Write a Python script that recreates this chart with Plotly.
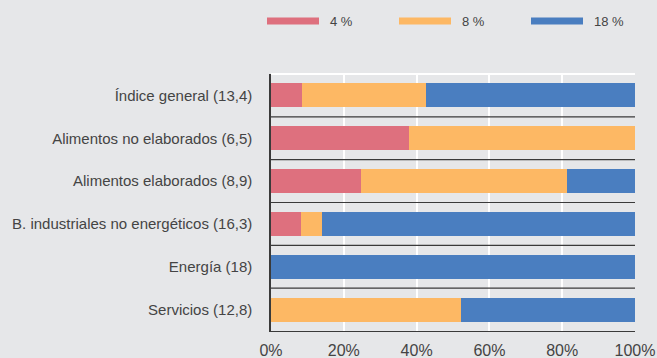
import plotly.graph_objects as go

# Categories (weight in parentheses) and share of each VAT rate, in %
categories = [
    "Índice general (13,4)",
    "Alimentos no elaborados (6,5)",
    "Alimentos elaborados (8,9)",
    "B. industriales no energéticos (16,3)",
    "Energía (18)",
    "Servicios (12,8)",
]
rate_4 = [8.5, 38.0, 24.8, 8.2, 0.0, 0.0]
rate_8 = [34.2, 62.0, 56.6, 5.8, 0.0, 52.3]
rate_18 = [57.3, 0.0, 18.6, 86.0, 100.0, 47.7]
series_names = ["4 %", "8 %", "18 %"]
tick_vals = [0, 20, 40, 60, 80, 100]
tick_text = ["0%", "20%", "40%", "60%", "80%", "100%"]

colors = ["#de707e", "#fdb864", "#4a7ec0"]
bg = "#e6e7e9"
text_color = "#444444"
font_family = "Liberation Sans, Arial, sans-serif"

fig = go.Figure()
for name, vals, col in zip(series_names, [rate_4, rate_8, rate_18], colors):
    fig.add_trace(go.Bar(
        y=categories, x=vals, name=name, orientation="h",
        marker=dict(color=col, line=dict(width=0)),
        showlegend=False,
    ))

# Layout geometry (pixels)
W, H = 657, 358
L, R, T, B = 271, 22, 74, 27
pw, ph = W - L - R, H - T - B

def px_x(p):
    return (p - L) / pw

def px_y(p):
    return (H - B - p) / ph

shapes = []
# dark separators between categories
for i in range(len(categories) - 1):
    shapes.append(dict(type="line", xref="paper", yref="y",
                       x0=0, x1=1, y0=i + 0.5, y1=i + 0.5,
                       line=dict(color="#3a3a3a", width=1.2), layer="above"))
# white top border
shapes.append(dict(type="line", xref="paper", yref="paper", x0=0, x1=1, y0=1, y1=1,
                   line=dict(color="white", width=2), layer="below"))

# hand-built legend: wide colour keys with labels
annotations = []
legend_x = [267, 399, 531]
for lx, name, col in zip(legend_x, series_names, colors):
    shapes.append(dict(type="rect", xref="paper", yref="paper",
                       x0=px_x(lx), x1=px_x(lx + 52), y0=px_y(24.5), y1=px_y(17.5),
                       fillcolor=col, line=dict(width=0)))
    annotations.append(dict(xref="paper", yref="paper", x=px_x(lx + 61), y=px_y(21),
                            text=name, showarrow=False, xanchor="left", yanchor="middle",
                            font=dict(size=13, color=text_color, family=font_family)))

fig.update_layout(
    barmode="stack",
    bargap=0.44,
    width=W, height=H,
    margin=dict(l=L, r=R, t=T, b=B, pad=0, autoexpand=False),
    paper_bgcolor=bg, plot_bgcolor=bg,
    font=dict(family=font_family, color=text_color, size=15),
    shapes=shapes,
    annotations=annotations,
    showlegend=False,
)
fig.update_xaxes(
    range=[0, 100], tickvals=tick_vals, ticktext=tick_text,
    showgrid=True, gridcolor="white", gridwidth=2,
    zeroline=False, automargin=False,
    showline=True, linecolor="#3a3a3a", linewidth=1.2,
    ticks="outside", ticklen=5, tickcolor="rgba(0,0,0,0)",
    tickfont=dict(size=16, color=text_color),
)
fig.update_yaxes(
    categoryorder="array", categoryarray=categories, autorange="reversed",
    showgrid=False, zeroline=False, automargin=False,
    showline=True, linecolor="#3a3a3a", linewidth=1.5,
    ticks="outside", ticklen=14, tickcolor="rgba(0,0,0,0)",
    tickfont=dict(size=15, color=text_color),
)

fig.write_html("out.html")
